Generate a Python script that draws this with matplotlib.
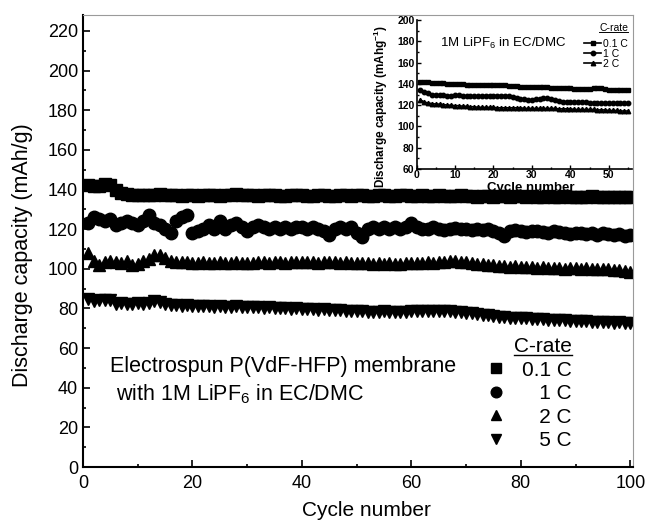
import numpy as np
import matplotlib
matplotlib.use('Agg')
import matplotlib.pyplot as plt
from matplotlib.lines import Line2D
from matplotlib.ticker import MultipleLocator

plt.rcParams['font.family'] = ['Liberation Sans', 'DejaVu Sans']
plt.rcParams['mathtext.default'] = 'regular'

# main plot data, cycles 1..100
cycles = np.arange(1, 101)
cap_01C = [142, 141.5, 141.5, 143, 142.5, 139.5, 138, 137.5, 137, 137,
           137, 137, 137, 137.5, 137, 137, 137, 136.5, 137, 137,
           136.5, 137, 137, 137, 136.5, 137, 137, 137.5, 137, 137,
           137, 136.5, 137, 137, 137, 136.5, 136.5, 137, 137, 137,
           136.5, 136.5, 137, 137, 136.5, 136.5, 137, 137, 136.5, 137,
           137, 136.5, 136.5, 137, 137, 136.5, 136.5, 137, 137, 136.5,
           136.5, 137, 136.5, 136.5, 137, 136.5, 136.5, 136.5, 137, 136.5,
           136.5, 136, 136.5, 136.5, 136, 136.5, 136.5, 136, 136.5, 136.5,
           136, 136.5, 136, 136, 136.5, 136, 136, 136.5, 136, 136,
           136, 136, 136.5, 136, 136, 136, 136, 136, 136, 136]
cap_1C = [123, 126, 125, 124, 125, 122, 123, 124, 123, 122,
          124, 127, 123, 122, 120, 118, 124, 126, 127, 118,
          119, 120, 122, 120, 124, 120, 122, 123, 121, 119,
          121, 122, 121, 120, 121, 120, 121, 120, 121, 121,
          120, 121, 120, 119, 117, 120, 121, 120, 121, 118,
          116, 120, 121, 120, 121, 120, 121, 120, 121, 123,
          121, 120, 120, 121, 120, 119.5, 120, 120.5, 120, 120,
          119.5, 120, 119.5, 120, 119, 118, 116.5, 119, 119.5, 119,
          118.5, 119, 119, 118.5, 118, 119, 118.5, 118, 117.5, 118,
          118, 117.5, 118, 117, 118, 117.5, 117, 117.5, 116.5, 117]
cap_2C = [108, 104, 102, 103.5, 104, 103.5, 103, 104, 102, 102.5,
          104, 105, 107, 107, 105.5, 104, 103.5, 103.5, 103.5, 103,
          103, 103.5, 103, 103, 103.5, 103, 103, 103.5, 103, 103,
          103, 103.5, 103.5, 103, 103.5, 103.5, 103, 103.5, 103.5, 103.5,
          103.5, 103.5, 103, 103.5, 103.5, 103.5, 103, 103.5, 103, 103,
          103, 103, 102.5, 103, 102.5, 103, 102.5, 102.5, 103, 103,
          103, 103, 103.5, 103, 103.5, 103.5, 104, 104, 103.5, 103.5,
          103, 102.5, 102.5, 102, 102, 101.5, 101.5, 101, 101.5, 101,
          101, 101, 100.5, 101, 100.5, 100.5, 100.5, 100, 100.5, 100.5,
          100, 100.5, 100, 100, 100, 100, 99.5, 99.5, 99, 98.5]
cap_5C = [84.5, 83.5, 84, 84, 84, 82, 82.5, 82, 82, 82.5,
          82, 82.5, 83.5, 83, 82, 81.5, 81.5, 81, 81.5, 81,
          81, 81, 81, 80.5, 81, 80.5, 80.5, 81, 80.5, 80.5,
          80.5, 80.5, 80, 80.5, 80, 80, 80, 79.5, 80, 79.5,
          79.5, 79.5, 79, 79.5, 79, 79, 79, 78.5, 78.5, 78.5,
          78.5, 78, 78, 78, 78.5, 78, 78, 78, 78, 78.5,
          78.5, 78.5, 78.5, 78.5, 78.5, 78.5, 78.5, 78, 78, 77.5,
          77.5, 77, 76.5, 76.5, 76, 75.5, 75.5, 75, 75, 75,
          75, 74.5, 74.5, 74.5, 74, 74, 74, 74, 73.5, 73.5,
          73.5, 73.5, 73, 73, 73, 73, 72.5, 73, 72.5, 72.5]

# inset data (liquid electrolyte), cycles 1..55
cycles_in = np.arange(1, 56)
in_01C = [142, 142, 141.5, 141, 141, 140.5, 140.5, 140, 140, 140,
          139.5, 139.5, 139, 139, 139, 139, 139, 139, 138.5, 138.5,
          138.5, 138.5, 138.5, 138, 138, 138, 137.5, 137.5, 137.5, 137.5,
          137, 137, 137, 137, 136.5, 136.5, 136.5, 136, 136, 136,
          135.5, 135.5, 135.5, 135.5, 135.5, 136, 136.5, 136, 135, 134.5,
          134.5, 134.5, 134.5, 134.5, 134.5]
in_1C = [134, 132.5, 131, 130, 130, 129.5, 129.5, 129, 129, 129.5,
         129.5, 129, 128.5, 128.5, 128.5, 128.5, 129, 129, 129, 129,
         129, 129, 129, 128.5, 127.5, 126.5, 126, 125.5, 125, 125,
         125.5, 126, 126.5, 126.5, 126, 125, 124, 123, 123, 123,
         122.5, 122.5, 122.5, 122.5, 122, 122, 122, 122, 122, 122,
         122, 122, 122, 122, 122]
in_2C = [125, 123, 122, 121.5, 121, 121, 120.5, 120, 120, 119.5,
         119.5, 119, 119, 118.5, 118.5, 118, 118, 118, 118, 118,
         117.5, 117.5, 117.5, 117.5, 117.5, 117.5, 117.5, 117, 117, 117,
         117, 117, 117, 117, 117, 117, 116.5, 116.5, 116.5, 116.5,
         116, 116, 116, 116, 116, 116, 115.5, 115.5, 115.5, 115,
         115, 115, 114.5, 114.5, 114.5]

W, H = 645, 526
fig = plt.figure(figsize=(W / 100, H / 100), dpi=100)

# ---- main axes ----
ax = fig.add_axes([83 / W, (H - 467) / H, 550 / W, 452 / H])
ax.plot(cycles, cap_01C, 's', ms=8, color='black', label='0.1 C')
ax.plot(cycles, cap_1C, 'o', ms=9, color='black', label='   1 C')
ax.plot(cycles, cap_2C, '^', ms=9, color='black', label='   2 C')
ax.plot(cycles, cap_5C, 'v', ms=9, color='black', label='   5 C')

ax.set_xlim(0, 100.5)
ax.set_ylim(0, 228)
ax.xaxis.set_major_locator(MultipleLocator(20))
ax.xaxis.set_minor_locator(MultipleLocator(10))
ax.yaxis.set_major_locator(MultipleLocator(20))
ax.yaxis.set_minor_locator(MultipleLocator(10))
ax.tick_params(which='both', direction='in', width=1.2, labelsize=13)
ax.tick_params(which='major', length=5)
ax.tick_params(which='minor', length=2.5)
ax.tick_params(axis='x', pad=6)
for s in ['left', 'bottom']:
    ax.spines[s].set_linewidth(1.5)
for s in ['top', 'right']:
    ax.spines[s].set_linewidth(0.8)
    ax.spines[s].set_color('#9a9a9a')

ax.set_xlabel('Cycle number', fontsize=15)
ax.set_ylabel('Discharge capacity (mAh/g)', fontsize=15.5)
ax.xaxis.set_label_coords(0.516, -0.075)
ax.yaxis.set_label_coords(-0.091, 0.469)

ax.text(0.049, 0.223, 'Electrospun P(VdF-HFP) membrane', transform=ax.transAxes,
        fontsize=15.5, va='center', ha='left')
ax.text(0.06, 0.161, 'with 1M LiPF$_6$ in EC/DMC', transform=ax.transAxes,
        fontsize=15.5, va='center', ha='left')

leg = ax.legend(loc='upper right', bbox_to_anchor=(572 / W, 1 - 337 / H),
                bbox_transform=fig.transFigure, frameon=False, title='C-rate',
                title_fontsize=15, fontsize=15, alignment='right', markerscale=0.85,
                handlelength=1.0, handletextpad=0.75, labelspacing=0.22,
                borderpad=0, borderaxespad=0)

# ---- inset axes ----
axi = fig.add_axes([416.5 / W, (H - 169) / H, 215.5 / W, 149 / H])
axi.plot(cycles_in, in_01C, '-s', ms=3, lw=1.2, color='black', label='0.1 C')
axi.plot(cycles_in, in_1C, '-o', ms=3.2, lw=1.2, color='black', label='1 C')
axi.plot(cycles_in, in_2C, '-^', ms=3.2, lw=1.2, color='black', label='2 C')
axi.set_xlim(0, 56)
axi.set_ylim(60, 200)
axi.xaxis.set_major_locator(MultipleLocator(10))
axi.xaxis.set_minor_locator(MultipleLocator(5))
axi.yaxis.set_major_locator(MultipleLocator(20))
axi.yaxis.set_minor_locator(MultipleLocator(10))
axi.tick_params(which='both', direction='in', width=1, labelsize=7.5, pad=1.5)
axi.tick_params(axis='x', pad=1)
axi.tick_params(which='major', length=3)
axi.tick_params(which='minor', length=1.5)
for t in axi.get_xticklabels() + axi.get_yticklabels():
    t.set_fontweight('bold')
axi.spines['top'].set_visible(False)
axi.spines['right'].set_visible(False)
for s in ['left', 'bottom']:
    axi.spines[s].set_linewidth(1.2)
axi.set_xlabel('Cycle number', fontsize=9.5, fontweight='bold')
axi.set_ylabel('Discharge capacity (mAhg$^{-1}$)', fontsize=8.5, fontweight='bold')
axi.xaxis.set_label_coords(0.528, -0.085)
axi.yaxis.set_label_coords(-0.125, 0.42)
axi.text(0.111, 0.84, '1M LiPF$_6$ in EC/DMC', transform=axi.transAxes,
         fontsize=9.5, va='center', ha='left')
legi = axi.legend(loc='upper right', bbox_to_anchor=(628 / W, 1 - 23 / H),
                  bbox_transform=fig.transFigure, frameon=False, title='C-rate',
                  title_fontsize=7.5, fontsize=7.5, alignment='right',
                  handlelength=1.6, handletextpad=0.2, labelspacing=0.0,
                  borderpad=0, borderaxespad=0)
legi._legend_box.sep = 4

# underline the legend titles
fig.canvas.draw()
for lg, lw in [(leg, 1.0), (legi, 0.7)]:
    bb = lg.get_title().get_window_extent()
    y = (bb.y0 + 1) / fig.bbox.height
    fig.add_artist(Line2D([bb.x0 / fig.bbox.width, bb.x1 / fig.bbox.width], [y, y],
                          color='black', lw=lw, transform=fig.transFigure))

fig.savefig('out.png', dpi=100)
